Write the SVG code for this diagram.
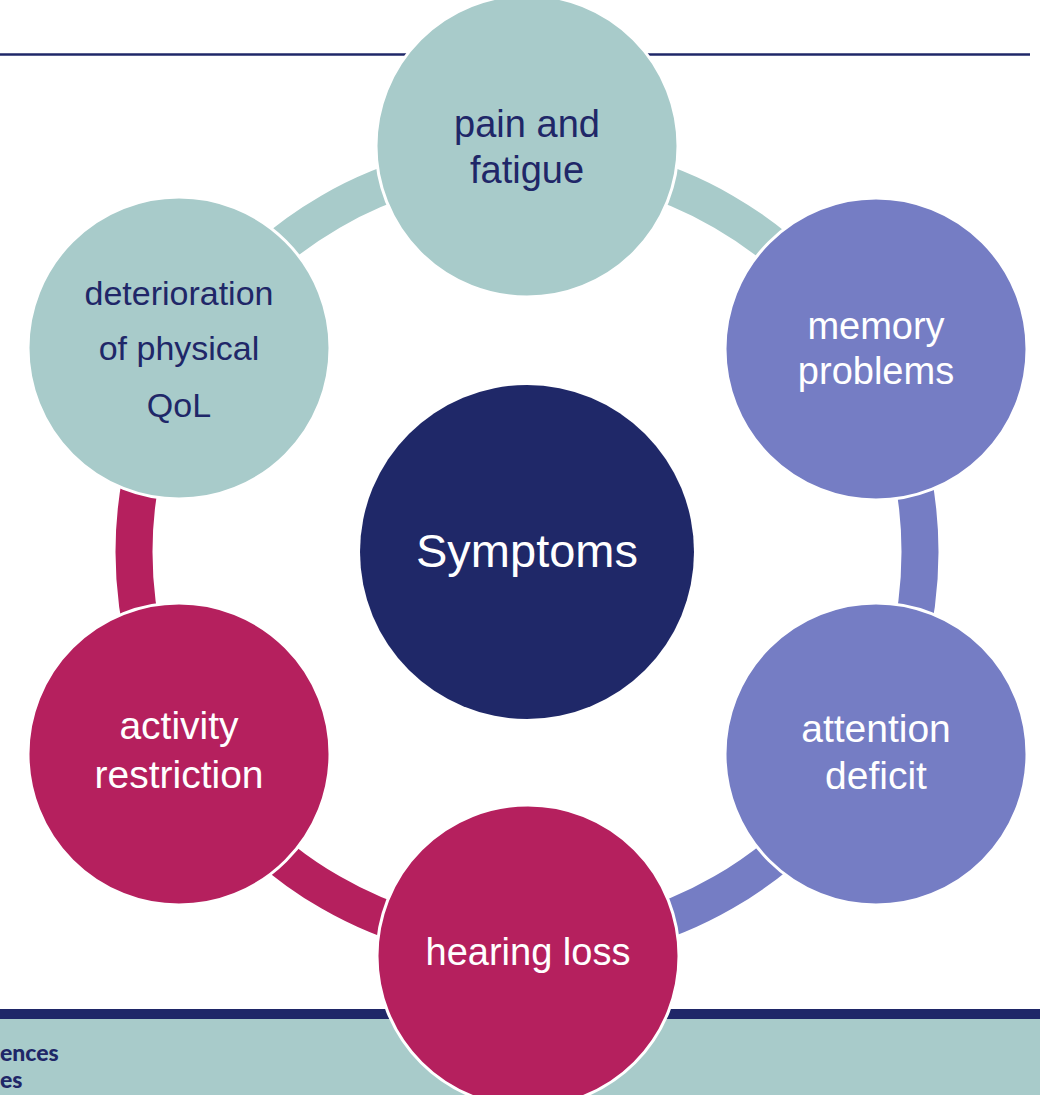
<svg xmlns="http://www.w3.org/2000/svg" width="1040" height="1095" viewBox="0 0 1040 1095">
<style>
.ring{fill:none;stroke-width:37;stroke-linecap:butt}
.node{stroke:#fff;stroke-width:3}
.t{font-family:"Liberation Sans",Arial,sans-serif;text-anchor:middle}
.dark{fill:#1F2768}
.light{fill:#fff}
.teal{fill:#A8CBCA}
.purple{fill:#757DC4}
.mag{fill:#B5205E}
.foot{font-family:Lato,"Liberation Sans",sans-serif;font-weight:900;font-size:23px;fill:#1F2768}
</style>
<rect x="0" y="0" width="1040" height="1095" fill="#fff"/>
<line x1="0" y1="54.5" x2="1030" y2="54.5" stroke="#1F2768" stroke-width="2.5"/>
<g id="footer">
<rect x="0" y="1009" width="1040" height="10" fill="#1F2768"/>
<rect x="0" y="1019" width="1040" height="76" fill="#A8CBCA"/>
<text class="foot" x="0" y="1061">ences</text>
<text class="foot" x="0" y="1088">es</text>
</g>
<g id="connectors">
<path class="ring" stroke="#A8CBCA" d="M527 159 A393 393 0 0 1 867.35 355.5"/>
<path class="ring" stroke="#757DC4" d="M867.35 355.5 A393 393 0 0 1 867.35 748.5"/>
<path class="ring" stroke="#757DC4" d="M867.35 748.5 A393 393 0 0 1 527 945"/>
<path class="ring" stroke="#B5205E" d="M527 945 A393 393 0 0 1 186.65 748.5"/>
<path class="ring" stroke="#B5205E" d="M186.65 748.5 A393 393 0 0 1 186.65 355.5"/>
<path class="ring" stroke="#A8CBCA" d="M186.65 355.5 A393 393 0 0 1 527 159"/>
</g>
<g id="center">
<circle cx="527" cy="552" r="167" fill="#1F2868"/>
<text class="t light" x="527" y="567" font-size="47">Symptoms</text>
</g>
<g id="pain">
<circle class="node teal" cx="527" cy="146" r="151"/>
<text class="t dark" x="527" y="137" font-size="38">pain and</text>
<text class="t dark" x="527" y="183" font-size="38">fatigue</text>
</g>
<g id="memory">
<circle class="node purple" cx="876" cy="349" r="151"/>
<text class="t light" x="876" y="339" font-size="38">memory</text>
<text class="t light" x="876" y="384" font-size="38">problems</text>
</g>
<g id="attention">
<circle class="node purple" cx="876" cy="754" r="151"/>
<text class="t light" x="876" y="742" font-size="39">attention</text>
<text class="t light" x="876" y="789" font-size="39">deficit</text>
</g>
<g id="hearing">
<circle class="node mag" cx="528" cy="956" r="151"/>
<text class="t light" x="528" y="965" font-size="38">hearing loss</text>
</g>
<g id="activity">
<circle class="node mag" cx="179" cy="754" r="151"/>
<text class="t light" x="179" y="739" font-size="39">activity</text>
<text class="t light" x="179" y="788" font-size="39">restriction</text>
</g>
<g id="deterioration">
<circle class="node teal" cx="179" cy="348" r="151"/>
<text class="t dark" x="179" y="305" font-size="34">deterioration</text>
<text class="t dark" x="179" y="360" font-size="34">of physical</text>
<text class="t dark" x="179" y="417" font-size="34">QoL</text>
</g>
</svg>
